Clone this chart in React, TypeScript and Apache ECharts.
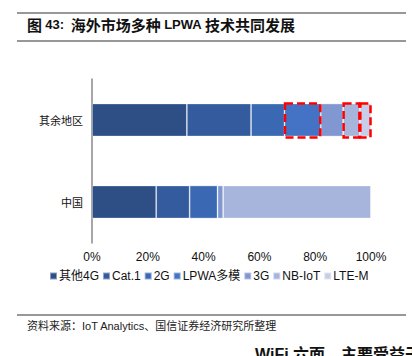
import React, { useEffect, useRef } from "react";
import * as echarts from "echarts";

const categories = ["中国", "其余地区"];
const seriesNames = ["其他4G", "Cat.1", "2G", "LPWA多模", "3G", "NB-IoT", "LTE-M"];
const chinaValues = [23, 12, 10, 0, 2, 53, 0];
const restValues = [34, 23, 12, 13, 8, 6, 4];
const colors = ["#2D4F86", "#345B9E", "#3A68B2", "#4472C4", "#8097D1", "#A7B4DB", "#C6CEE8"];
const xTicks = [0, 20, 40, 60, 80, 100];
const highlighted = ["LPWA多模", "NB-IoT", "LTE-M"];

const titleRich = "{c|图} {l|43:}  {c|海外市场多种} {l|LPWA} {c|技术共同发展}";
const sourceText = "资料来源：IoT Analytics、国信证券经济研究所整理";
const bottomText = "WiFi 六面，主要受益于";

export default function App() {
  const ref = useRef<HTMLDivElement>(null);
  useEffect(() => {
    if (!ref.current) return;
    const chart = echarts.init(ref.current, undefined, { renderer: "svg" });
    const font = "'Liberation Sans', 'Noto Sans CJK SC', sans-serif";
    chart.setOption({
      animation: false,
      backgroundColor: "#ffffff",
      grid: { left: 92, right: 41, top: 79, height: 164 },
      xAxis: {
        type: "value",
        min: 0,
        max: 100,
        interval: 20,
        axisLine: { show: false },
        axisTick: { show: false },
        splitLine: { show: false },
        axisLabel: {
          margin: 8,
          color: "#111",
          fontSize: 12,
          fontFamily: font,
          formatter: (v: number) => (xTicks.includes(v) ? v + "%" : ""),
        },
      },
      yAxis: {
        type: "category",
        data: categories,
        axisLine: { show: true, lineStyle: { color: "#8a8a8a", width: 1.5 } },
        axisTick: { show: false },
        axisLabel: { margin: 9, color: "#111", fontSize: 11, fontFamily: "'Noto Sans CJK SC', sans-serif" },
      },
      legend: {
        left: 44,
        top: 265,
        itemWidth: 7,
        itemHeight: 7,
        itemGap: 3,
        icon: "rect",
        textStyle: { fontSize: 12, color: "#111", fontFamily: font, padding: [0, 0, 0, -3] },
        data: seriesNames,
      },
      series: seriesNames.map((name, i) => ({
        name,
        type: "bar",
        stack: "total",
        barWidth: 33,
        data: [chinaValues[i], restValues[i]],
        itemStyle: { color: colors[i], borderColor: "rgba(255,255,255,0.45)", borderWidth: 0.8 },
      })),
      graphic: [
        { type: "line", shape: { x1: 17, y1: 13, x2: 406, y2: 13 }, style: { stroke: "#333", lineWidth: 1.2 } },
        { type: "line", shape: { x1: 17, y1: 41, x2: 406, y2: 41 }, style: { stroke: "#333", lineWidth: 1.2 } },
        {
          type: "text",
          left: 27,
          top: 17,
          style: {
            text: titleRich,
            fill: "#111",
            rich: {
              c: { fontSize: 15, lineHeight: 20, verticalAlign: "middle", fontWeight: "bold", fontFamily: "'Noto Sans CJK SC', sans-serif", fill: "#111" },
              l: { fontSize: 13, lineHeight: 20, verticalAlign: "middle", fontWeight: "bold", fontFamily: "'Liberation Sans', sans-serif", fill: "#111" },
            },
          },
        },
        { type: "line", shape: { x1: 17, y1: 315, x2: 406, y2: 315 }, style: { stroke: "#333", lineWidth: 1.2 } },
        {
          type: "text",
          left: 27,
          top: 320,
          style: { text: sourceText, fill: "#222", font: "11px 'Liberation Sans', 'Noto Sans CJK SC', sans-serif" },
        },
        {
          type: "text",
          left: 255,
          top: 346,
          style: { text: bottomText, fill: "#111", font: "bold 16px 'Liberation Sans', 'Noto Sans CJK SC', sans-serif" },
        },
      ],
    });

    // dashed red highlight boxes around selected segments of the top bar
    const rects: any[] = [];
    let cum = 0;
    restValues.forEach((v, i) => {
      const start = cum;
      cum += v;
      if (!highlighted.includes(seriesNames[i])) return;
      const p0 = chart.convertToPixel({ gridIndex: 0 } as any, [start, 1]) as number[];
      const p1 = chart.convertToPixel({ gridIndex: 0 } as any, [cum, 1]) as number[];
      rects.push({
        type: "rect",
        z: 100,
        shape: { x: p0[0] + 0.5, y: p0[1] - 16.5, width: p1[0] - p0[0] - 1, height: 34 },
        style: { fill: "none", stroke: "#FF0000", lineWidth: 2.5, lineDash: [8, 4] },
      });
    });
    chart.setOption({ graphic: rects.map((r, i) => ({ ...r, id: "hl" + i })) });

    return () => chart.dispose();
  }, []);
  return <div ref={ref} style={{ position: "absolute", left: 0, top: 0, width: 412, height: 356 }} />;
}
